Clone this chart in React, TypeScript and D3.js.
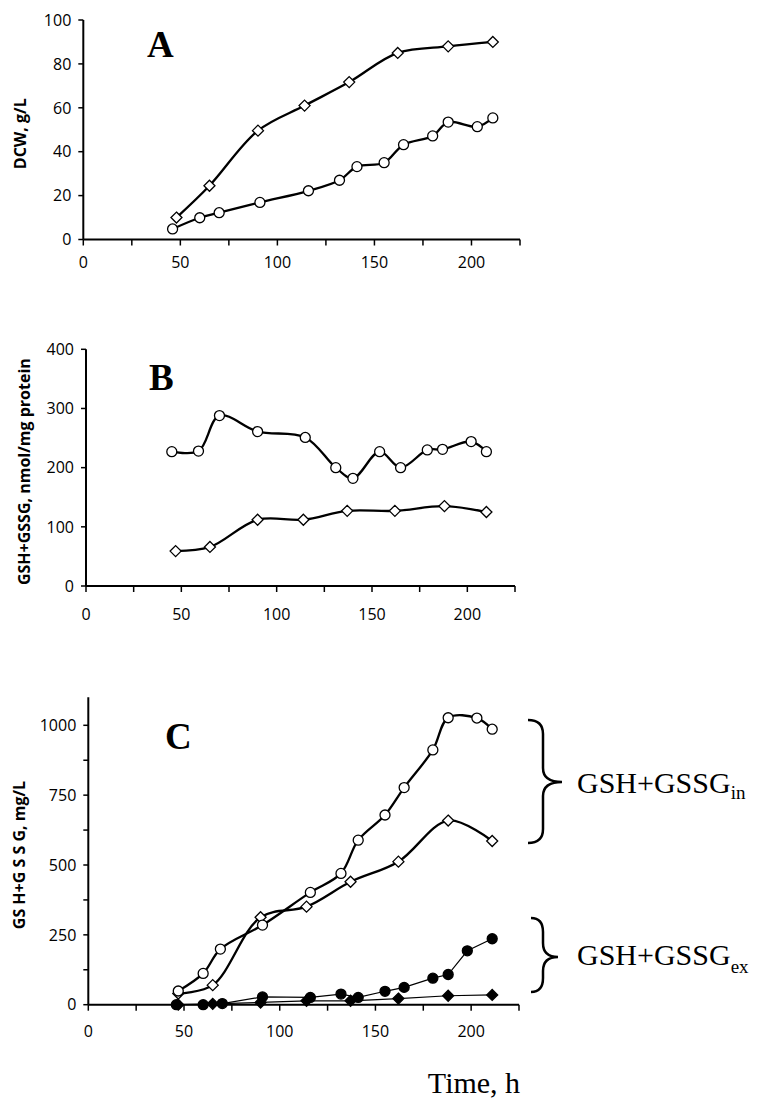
import * as d3 from "d3";
import React from "react";

const W = 763;
const H = 1098;

const xTicks = d3.range(0, 226, 25);
const xLabels = [0, 50, 100, 150, 200];

// panel A: dry cell weight, g/L
const timeA1 = [48, 65, 90, 114, 137, 162, 188, 211];
const dcw1 = [10, 24.5, 49.6, 61, 71.7, 85, 88, 90];
const timeA2 = [46, 60, 70, 91, 116, 132, 141, 155, 165, 180, 188, 203, 211];
const dcw2 = [4.8, 9.9, 12.2, 16.9, 22.2, 27, 33.2, 35, 43.2, 47.2, 53.5, 51.4, 55.4];

// panel B: GSH+GSSG, nmol/mg protein
const timeB1 = [45, 59, 70, 90, 115, 131, 140, 154, 165, 179, 187, 202, 210];
const prot1 = [227, 228, 288, 261, 251, 200, 182, 227, 200, 230, 231, 244, 227];
const timeB2 = [47, 65, 90, 114, 137, 162, 188, 210];
const prot2 = [59, 66, 112, 112, 127, 127, 135, 125];

// panel C: GSH+GSSG, mg/L (intracellular and extracellular)
const timeC1 = [47, 60, 69, 91, 116, 132, 141, 155, 165, 180, 188, 203, 211];
const inCirc = [49, 112, 199, 285, 402, 470, 589, 679, 777, 912, 1027, 1026, 986];
const timeC2 = [47, 65, 90, 114, 137, 162, 188, 211];
const inDia = [40, 70, 313, 351, 440, 512, 659, 586];
const timeC3 = [46, 60, 70, 91, 116, 132, 141, 155, 165, 180, 188, 198, 211];
const exCirc = [0, 0, 4, 28, 26, 38, 26, 48, 62, 95, 108, 193, 236];
const timeC4 = [47, 65, 90, 114, 137, 162, 188, 211];
const exDia = [0, 3, 8, 14, 14, 22, 32, 35];

const tickFont = "'Open Sans', sans-serif";

type Series = {
  t: number[];
  v: number[];
  marker: "circle" | "diamond";
  filled?: boolean;
  thin?: boolean;
};

function Marker({ cx, cy, s }: { cx: number; cy: number; s: Series }) {
  const fill = s.filled ? "#000" : "#fff";
  if (s.marker === "circle") {
    return <circle cx={cx} cy={cy} r={5} fill={fill} stroke="#000" strokeWidth={1.3} />;
  }
  const d = 5.5;
  return (
    <path
      d={`M${cx},${cy - d}L${cx + d},${cy}L${cx},${cy + d}L${cx - d},${cy}Z`}
      fill={fill}
      stroke="#000"
      strokeWidth={1.3}
    />
  );
}

function Panel(props: {
  left: number;
  right: number;
  bottom: number;
  top: number;
  yRef: number;
  yMax: number;
  yStep: number;
  yLabels: number[];
  labelOffset: number;
  title: string;
  titleX: number;
  letter: string;
  letterX: number;
  letterY: number;
  series: Series[];
}) {
  const { left, right, bottom, top, yRef, yMax, yStep, yLabels, series } = props;
  const x = d3.scaleLinear().domain([0, 225]).range([left, right]);
  const y = d3.scaleLinear().domain([0, yRef]).range([bottom, top]);
  const yTicks = d3.range(0, yMax + 0.001, yStep);

  return (
    <g>
      {/* axes */}
      <line x1={left} x2={left} y1={y(yMax)} y2={bottom} stroke="#000" strokeWidth={2} />
      <line x1={left} x2={right} y1={bottom} y2={bottom} stroke="#000" strokeWidth={2} />
      {yTicks.map((v) => (
        <line key={"yt" + v} x1={left - 5} x2={left} y1={y(v)} y2={y(v)} stroke="#000" strokeWidth={1.5} />
      ))}
      {xTicks.map((t) => (
        <line key={"xt" + t} x1={x(t)} x2={x(t)} y1={bottom} y2={bottom + 6} stroke="#000" strokeWidth={1.5} />
      ))}
      {yLabels.map((v) => (
        <text key={"yl" + v} x={left - 12} y={y(v)} dy="0.36em" textAnchor="end" fontFamily={tickFont} fontSize={16}>
          {v}
        </text>
      ))}
      {xLabels.map((t) => (
        <text key={"xl" + t} x={x(t)} y={bottom + props.labelOffset} textAnchor="middle" fontFamily={tickFont} fontSize={16}>
          {t}
        </text>
      ))}
      <text
        transform={`translate(${props.titleX},${(y(yMax) + bottom) / 2 + 4}) rotate(-90)`}
        textAnchor="middle"
        fontFamily={tickFont}
        fontWeight="bold"
        fontSize={16}
      >
        {props.title}
      </text>
      <text x={props.letterX} y={props.letterY} fontFamily="'Liberation Serif', serif" fontWeight="bold" fontSize={37}>
        {props.letter}
      </text>

      {/* lines */}
      {series.map((s, i) => {
        const pts = s.t.map((t, j) => [t, s.v[j]] as [number, number]);
        const line = d3
          .line<[number, number]>()
          .x((d) => x(d[0]))
          .y((d) => y(d[1]))
          .curve(s.thin ? d3.curveLinear : d3.curveCatmullRom.alpha(0.5));
        return (
          <path key={"l" + i} d={line(pts) || ""} fill="none" stroke="#000" strokeWidth={s.thin ? 1.2 : 2.3} />
        );
      })}
      {series.map((s, i) =>
        s.t.map((t, j) => <Marker key={"m" + i + "-" + j} cx={x(t)} cy={y(s.v[j])} s={s} />)
      )}
    </g>
  );
}

function Brace({ x0, xs, xp, top, mid, bottom }: { x0: number; xs: number; xp: number; top: number; mid: number; bottom: number }) {
  const r = 14;
  const d =
    `M${x0},${top} Q${xs},${top} ${xs},${top + r} L${xs},${mid - r} Q${xs},${mid} ${xp},${mid}` +
    ` Q${xs},${mid} ${xs},${mid + r} L${xs},${bottom - r} Q${xs},${bottom} ${x0},${bottom}`;
  return <path d={d} fill="none" stroke="#000" strokeWidth={2.5} />;
}

export default function App() {
  const serif = "'Liberation Serif', 'Times New Roman', serif";
  return (
    <svg width={W} height={H} style={{ position: "absolute", left: 0, top: 0, background: "#fff" }}>
      <Panel
        left={83.3}
        right={520}
        bottom={239.5}
        top={20}
        yRef={100}
        yMax={100}
        yStep={20}
        yLabels={[0, 20, 40, 60, 80, 100]}
        labelOffset={28}
        title="DCW, g/L"
        titleX={26}
        letter="A"
        letterX={147}
        letterY={57}
        series={[
          { t: timeA1, v: dcw1, marker: "diamond" },
          { t: timeA2, v: dcw2, marker: "circle" },
        ]}
      />
      <Panel
        left={86}
        right={515}
        bottom={586}
        top={349.3}
        yRef={400}
        yMax={400}
        yStep={100}
        yLabels={[0, 100, 200, 300, 400]}
        labelOffset={34}
        title="GSH+GSSG, nmol/mg protein"
        titleX={30}
        letter="B"
        letterX={149}
        letterY={390}
        series={[
          { t: timeB1, v: prot1, marker: "circle" },
          { t: timeB2, v: prot2, marker: "diamond" },
        ]}
      />
      <Panel
        left={88.3}
        right={519}
        bottom={1004.7}
        top={725.3}
        yRef={1000}
        yMax={1100}
        yStep={125}
        yLabels={[0, 250, 500, 750, 1000]}
        labelOffset={32}
        title="GS H+G S S G, mg/L"
        titleX={25}
        letter="C"
        letterX={165}
        letterY={749}
        series={[
          { t: timeC3, v: exCirc, marker: "circle", filled: true, thin: true },
          { t: timeC4, v: exDia, marker: "diamond", filled: true, thin: true },
          { t: timeC2, v: inDia, marker: "diamond" },
          { t: timeC1, v: inCirc, marker: "circle" },
        ]}
      />

      <Brace x0={528} xs={543} xp={562} top={720} mid={782} bottom={843} />
      <Brace x0={531} xs={543} xp={558} top={918} mid={957} bottom={992} />
      <text x={577} y={793} fontFamily={serif} fontSize={30}>
        GSH+GSSG
        <tspan fontSize={19} dy={6}>in</tspan>
      </text>
      <text x={577} y={965} fontFamily={serif} fontSize={30}>
        GSH+GSSG
        <tspan fontSize={19} dy={8}>ex</tspan>
      </text>
      <text x={474} y={1093} textAnchor="middle" fontFamily={serif} fontSize={30}>
        Time, h
      </text>
    </svg>
  );
}
